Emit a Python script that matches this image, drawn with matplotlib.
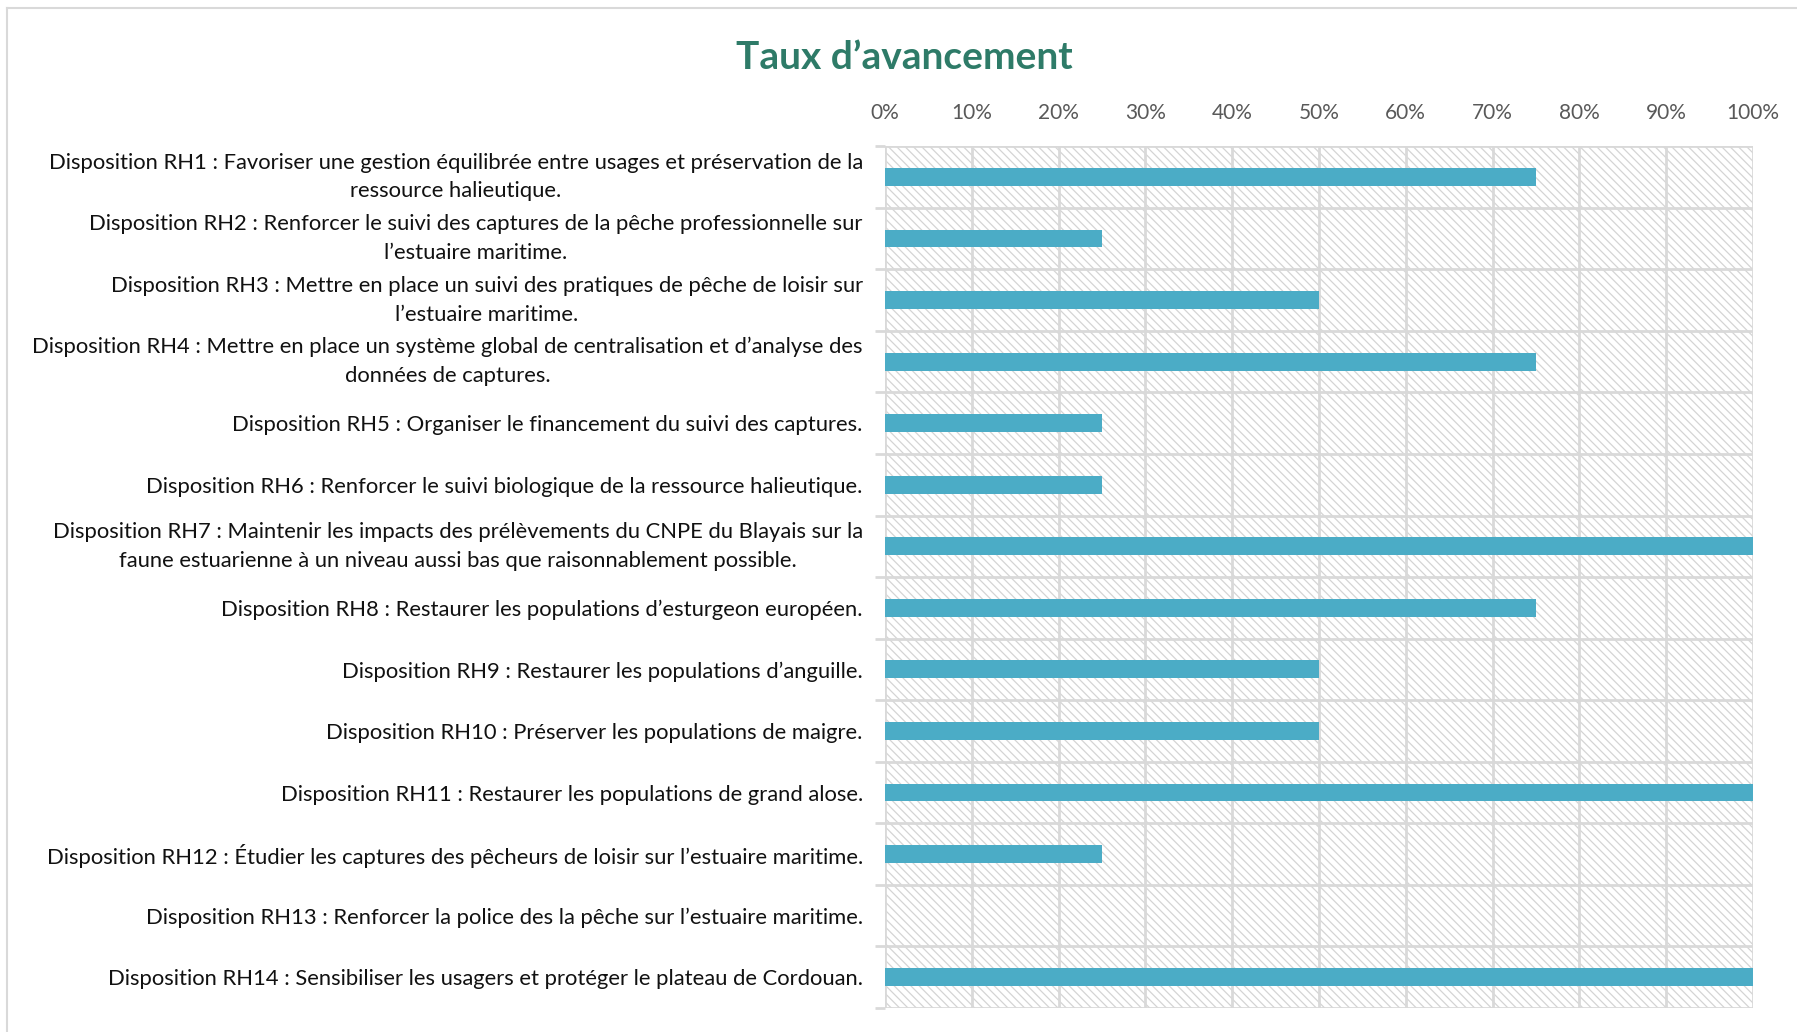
import matplotlib
matplotlib.use("Agg")
import matplotlib.pyplot as plt
from matplotlib.lines import Line2D
from matplotlib.patches import Rectangle
import numpy as np

plt.rcParams['font.family'] = ['Lato', 'DejaVu Sans']

titre = "Taux d\u2019avancement"

dispositions = [
    "Disposition RH1 : Favoriser une gestion équilibrée entre usages et préservation de la\nressource halieutique.",
    "Disposition RH2 : Renforcer le suivi des captures de la pêche professionnelle sur\nl\u2019estuaire maritime.",
    "Disposition RH3 : Mettre en place un suivi des pratiques de pêche de loisir sur\nl\u2019estuaire maritime.",
    "Disposition RH4 : Mettre en place un système global de centralisation et d\u2019analyse des\ndonnées de captures.",
    "Disposition RH5 : Organiser le financement du suivi des captures.",
    "Disposition RH6 : Renforcer le suivi biologique de la ressource halieutique.",
    "Disposition RH7 : Maintenir les impacts des prélèvements du CNPE du Blayais sur la\nfaune estuarienne à un niveau aussi bas que raisonnablement possible.",
    "Disposition RH8 : Restaurer les populations d\u2019esturgeon européen.",
    "Disposition RH9 : Restaurer les populations d\u2019anguille.",
    "Disposition RH10 : Préserver les populations de maigre.",
    "Disposition RH11 : Restaurer les populations de grand alose.",
    "Disposition RH12 : Étudier les captures des pêcheurs de loisir sur l\u2019estuaire maritime.",
    "Disposition RH13 : Renforcer la police des la pêche sur l\u2019estuaire maritime.",
    "Disposition RH14 : Sensibiliser les usagers et protéger le plateau de Cordouan.",
]
avancement = [0.75, 0.25, 0.50, 0.75, 0.25, 0.25, 1.00, 0.75, 0.50, 0.50, 1.00, 0.25, 0.0, 1.00]
graduations = [i / 10 for i in range(11)]

couleur_barre = "#4bacc6"
gris_grille = "#d9d9d9"

fig = plt.figure(figsize=(17.97, 10.32), dpi=100)
ax = fig.add_axes([0.4925, 0.0233, 0.483, 0.835])

n = len(dispositions)
y = np.arange(n)

# fond hachuré
plt.rcParams['hatch.color'] = "#d4d4d4"
plt.rcParams['hatch.linewidth'] = 0.9
fond = Rectangle((0, 0), 1, 1, transform=ax.transAxes, facecolor="white",
                 hatch="\\\\\\\\", edgecolor="#d4d4d4", linewidth=0, zorder=0)
ax.add_patch(fond)

ax.barh(y, avancement, height=0.29, color=couleur_barre, zorder=3)

ax.set_xlim(0, 1)
ax.set_ylim(n - 0.5, -0.5)

# grille
for g in graduations:
    ax.axvline(g, color=gris_grille, linewidth=2, zorder=1)
for b in np.arange(-0.5, n, 1):
    ax.axhline(b, color=gris_grille, linewidth=2, zorder=1)

ax.xaxis.tick_top()
ax.set_xticks(graduations)
ax.set_xticklabels([f"{int(round(g * 100))}%" for g in graduations],
                   fontsize=15, color="#595959")
ax.tick_params(axis='x', length=0, pad=17)

ax.set_yticks(y)
ax.set_yticklabels(dispositions, fontsize=15.8, color="#111111")
for lab in ax.get_yticklabels():
    lab.set_multialignment('center')
    lab.set_linespacing(1.55)
    if "\n" in lab.get_text():
        lab.set_va('center')
ax.set_yticks(np.arange(-0.5, n, 1), minor=True)
ax.tick_params(axis='y', which='major', length=0, pad=16)
ax.tick_params(axis='y', which='minor', length=7, width=2, color=gris_grille)

for s in ax.spines.values():
    s.set_visible(False)

fig.text(0.503, 0.944, titre, ha='center', va='center', fontsize=28,
         fontweight='bold', color="#2e7b68")

# cadre du graphique
fig.add_artist(Line2D([0.0039, 0.0039], [0, 0.992], transform=fig.transFigure,
                      color="#d9d9d9", linewidth=1.5))
fig.add_artist(Line2D([0.0039, 1], [0.992, 0.992], transform=fig.transFigure,
                      color="#d9d9d9", linewidth=1.5))

fig.savefig("out.png", dpi=100)
